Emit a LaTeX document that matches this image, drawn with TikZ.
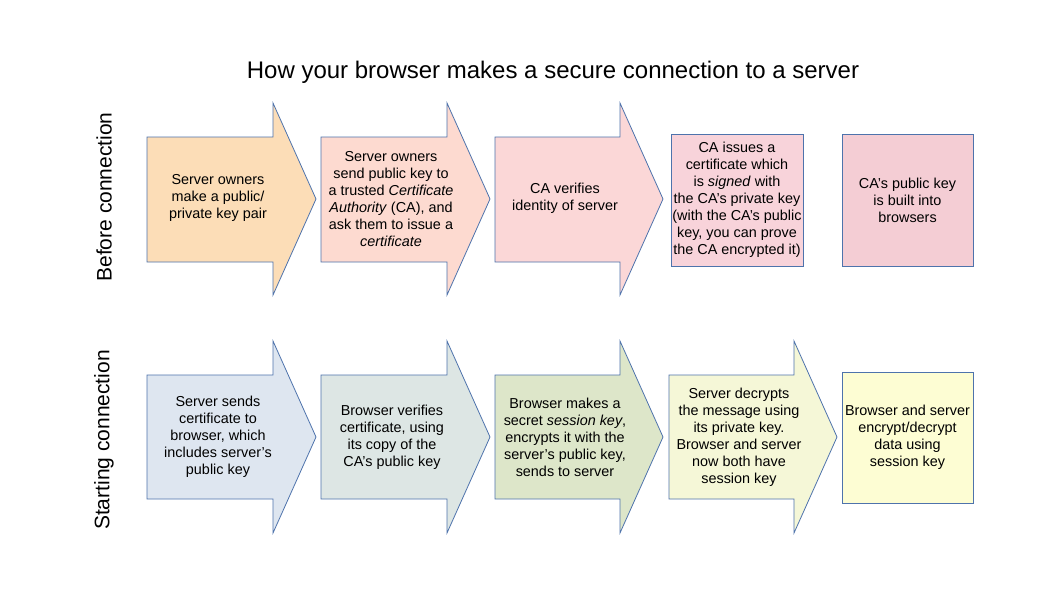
\documentclass[tikz,border=0pt]{standalone}
\usepackage{fontspec}
\setmainfont{Liberation Sans}
\usepackage{tikz}
\usetikzlibrary{positioning}
\definecolor{stpline}{HTML}{4E73AC}
\definecolor{orng}{HTML}{FCDDB7}
\definecolor{salm}{HTML}{FDDAD0}
\definecolor{pnk}{HTML}{FBD7D7}
\definecolor{rose}{HTML}{F8D3DA}
\definecolor{rosedk}{HTML}{F4CDD4}
\definecolor{blgr}{HTML}{DEE6F0}
\definecolor{grgr}{HTML}{DDE6E4}
\definecolor{olv}{HTML}{DDE6C9}
\definecolor{pylw}{HTML}{F5F7D7}
\definecolor{ylw}{HTML}{FDFDD3}
\tikzset{
  stp/.style   = {draw=stpline, line width=0.8pt, line join=miter},
  sqr/.style   = {stp, rectangle, inner sep=0pt},
  txt/.style   = {align=center, inner sep=0pt, font=\fontsize{14.4}{17}\selectfont},
  side/.style  = {rotate=90, inner sep=0pt, font=\fontsize{21}{24}\selectfont},
  ttl/.style   = {inner sep=0pt, font=\fontsize{24}{28}\selectfont}
}

\begin{document}
\begin{tikzpicture}[x=1pt, y=-1pt]
  \useasboundingbox[fill=white] (0,0) rectangle (1058,595);

  \node[ttl] (title) at (553,72) {How your browser makes a secure connection to a server};
  \node[side] (before) at (104,197) {Before connection};
  \node[side] (start) at (104,440) {Starting connection};

  % before connection
  \coordinate (a1) at (147,137);
  \coordinate (a2) at (321,137);
  \coordinate (a3) at (495,137);
  \draw[stp, fill=orng] (a1) -- ++(126,0) -- ++(0,-34) -- ++(43,96) -- ++(-43,96)
       -- ++(0,-33) -- ++(-126,0) -- cycle;
  \draw[stp, fill=salm] (a2) -- ++(126,0) -- ++(0,-34) -- ++(43,96) -- ++(-43,96)
       -- ++(0,-33) -- ++(-126,0) -- cycle;
  \draw[stp, fill=pnk] (a3) -- ++(125,0) -- ++(0,-34) -- ++(43,96) -- ++(-43,96)
       -- ++(0,-33) -- ++(-125,0) -- cycle;
  \node[sqr, fill=rose, minimum width=132, minimum height=132] (b4) at (737,200) {};
  \node[sqr, fill=rosedk, minimum width=131, minimum height=132] (b5) at (907.5,200) {};

  \node[txt] (t1) at (218,198) {Server owners\\make a public/\\private key pair};
  \node[txt] (t2) at (391,199) {Server owners\\send public key to\\a trusted \textit{Certificate}\\
       \textit{Authority} (CA), and\\ask them to issue a\\\textit{certificate}};
  \node[txt] (t3) at (565,198) {CA verifies\\identity of server};
  \node[txt] (t4) at (b4) {CA issues a\\certificate which\\is \textit{signed} with\\
       the CA’s private key\\(with the CA’s public\\key, you can prove\\the CA encrypted it)};
  \node[txt] (t5) at (b5) {CA’s public key\\is built into\\browsers};

  % starting connection
  \coordinate (c1) at (147,375);
  \coordinate (c2) at (321,375);
  \coordinate (c3) at (495,375);
  \coordinate (c4) at (669,375);
  \draw[stp, fill=blgr] (c1) -- ++(126,0) -- ++(0,-34) -- ++(43,96) -- ++(-43,96)
       -- ++(0,-34) -- ++(-126,0) -- cycle;
  \draw[stp, fill=grgr] (c2) -- ++(126,0) -- ++(0,-34) -- ++(43,96) -- ++(-43,96)
       -- ++(0,-34) -- ++(-126,0) -- cycle;
  \draw[stp, fill=olv] (c3) -- ++(125,0) -- ++(0,-34) -- ++(43,96) -- ++(-43,96)
       -- ++(0,-34) -- ++(-125,0) -- cycle;
  \draw[stp, fill=pylw] (c4) -- ++(125,0) -- ++(0,-34) -- ++(43,96) -- ++(-43,96)
       -- ++(0,-34) -- ++(-125,0) -- cycle;
  \node[sqr, fill=ylw, minimum width=131, minimum height=131] (d5) at (907.5,437.5) {};

  \node[txt] (u1) at (218,437) {Server sends\\certificate to\\browser, which\\
       includes server’s\\public key};
  \node[txt] (u2) at (392,437) {Browser verifies\\certificate, using\\its copy of the\\
       CA’s public key};
  \node[txt] (u3) at (565,437) {Browser makes a\\secret \textit{session key},\\
       encrypts it with the\\server’s public key,\\sends to server};
  \node[txt] (u4) at (739,437) {Server decrypts\\the message using\\its private key.\\
       Browser and server\\now both have\\session key};
  \node[txt] (u5) at (d5) {Browser and server\\encrypt/decrypt\\data using\\session key};
\end{tikzpicture}
\end{document}
